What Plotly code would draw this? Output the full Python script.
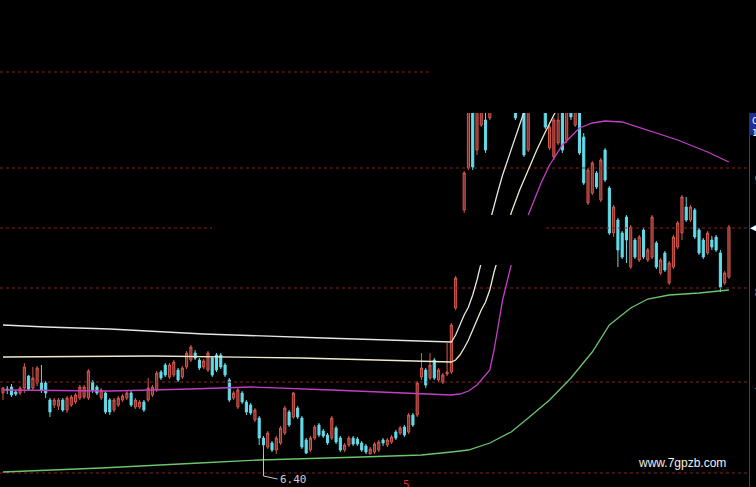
import numpy as np
import plotly.graph_objects as go

# ---------------- data (prices) ----------------
opens = [7.02,7.06,7.08,7.03,7.02,7.07,7.19,7.07,7.12,7.12,7.12,6.95,6.90,6.89,6.95,6.85,6.90,6.93,6.97,6.98,
         6.97,7.13,7.08,6.97,7.02,6.95,6.85,6.90,6.95,6.97,7.02,6.88,6.88,6.93,6.95,7.00,7.05,7.23,7.30,7.18,
         7.20,7.25,7.18,7.28,7.35,7.42,7.35,7.28,7.25,7.37,7.40,7.40,7.30,7.15,6.97,6.88,7.02,6.93,6.90,6.75,
         6.77,6.57,6.48,6.52,6.45,6.52,6.62,6.83,6.78,6.87,6.77,6.55,6.45,6.57,6.70,6.64,6.60,6.57,6.67,6.57,
         6.45,6.50,6.57,6.56,6.52,6.49,6.41,6.43,6.45,6.55,6.50,6.53,6.63,6.62,6.68,6.63,6.80,6.80,7.18,7.25,
         7.17,7.35,7.15,7.13,7.21,7.23,7.87,8.33,8.85,9.27,9.95,9.45,9.70,9.75,9.77,10.10,9.95,10.20,10.40,10.15,
         10.10,9.85,10.20,9.45,10.00,10.25,10.00,10.30,9.47,9.38,9.52,10.05,9.55,10.20,9.70,10.10,9.58,8.92,9.02,9.22,
         8.95,9.45,9.07,8.62,8.75,8.62,8.78,8.28,8.55,8.35,8.65,8.35,8.38,8.52,8.22,8.42,8.12,8.28,8.48,8.62,
         8.88,8.75,8.85,8.65,8.55,8.42,8.55,8.58,8.42,8.12,8.18]
highs = [7.08,7.09,7.11,7.05,7.09,7.32,7.20,7.28,7.29,7.30,7.14,6.97,6.97,6.97,6.97,6.99,7.00,7.02,7.10,7.10,
         7.26,7.15,7.10,7.07,7.04,6.97,6.97,6.99,7.01,7.04,7.04,6.97,6.95,6.95,7.17,7.10,7.24,7.25,7.32,7.32,
         7.35,7.27,7.29,7.44,7.50,7.45,7.37,7.36,7.44,7.39,7.42,7.42,7.32,7.17,7.04,7.07,7.04,6.95,6.92,6.87,
         6.79,6.59,6.64,6.54,6.59,6.69,6.89,6.85,7.03,6.89,6.79,6.57,6.59,6.70,6.72,6.66,6.62,6.79,6.69,6.59,
         6.52,6.59,6.59,6.58,6.54,6.51,6.48,6.53,6.55,6.57,6.57,6.60,6.65,6.69,6.70,6.82,6.82,7.14,7.42,7.27,
         7.42,7.37,7.27,7.22,7.52,7.72,8.19,8.72,9.24,10.10,10.05,10.00,10.10,9.85,10.05,10.20,10.25,10.45,10.50,10.45,
         10.25,10.15,10.30,10.10,10.30,10.35,10.35,10.40,9.70,9.77,9.85,10.15,10.10,10.30,10.25,10.20,9.62,9.27,9.34,9.24,
         9.37,9.47,9.09,8.90,8.77,8.64,8.80,8.70,8.57,8.60,8.67,8.47,8.80,8.54,8.37,8.44,8.34,8.60,8.74,9.00,
         8.98,8.90,8.87,8.67,8.57,8.64,8.59,8.60,8.45,8.24,8.70]
lows = [6.95,7.01,6.98,6.99,7.00,7.02,7.05,7.05,7.09,7.02,6.97,6.78,6.87,6.85,6.83,6.82,6.88,6.91,6.95,6.96,
        6.95,7.02,7.00,6.95,6.81,6.80,6.83,6.88,6.93,6.95,6.88,6.86,6.86,6.83,6.93,6.98,7.03,7.15,7.18,7.16,
        7.18,7.13,7.16,7.26,7.33,7.35,7.25,7.26,7.23,7.18,7.23,7.26,7.18,6.93,6.95,6.86,6.91,6.80,6.80,6.73,
        6.50,6.40,6.46,6.43,6.41,6.50,6.60,6.68,6.76,6.76,6.46,6.41,6.43,6.55,6.58,6.57,6.50,6.55,6.51,6.43,
        6.43,6.48,6.49,6.49,6.43,6.41,6.41,6.41,6.43,6.49,6.48,6.51,6.55,6.60,6.58,6.61,6.68,6.78,7.15,7.07,
        7.15,7.15,7.13,7.11,7.19,7.21,7.85,8.31,8.82,9.25,9.25,9.40,9.68,9.42,9.75,9.90,9.92,10.15,10.10,10.05,
        9.75,9.83,9.38,9.43,9.95,9.95,9.90,9.66,9.45,9.35,9.50,9.42,9.52,9.75,9.68,9.40,9.10,8.90,9.00,9.06,
        8.93,9.13,8.60,8.58,8.28,8.36,8.32,8.26,8.36,8.33,8.36,8.33,8.36,8.26,8.20,8.23,8.10,8.26,8.46,8.55,
        8.73,8.73,8.56,8.40,8.36,8.40,8.45,8.43,8.03,8.10,8.16]
closes = [7.07,7.05,7.00,7.01,7.07,7.28,7.06,7.17,7.27,7.05,7.02,6.83,6.95,6.95,6.85,6.97,6.98,7.00,7.08,7.08,
          7.24,7.05,7.02,7.05,6.83,6.83,6.95,6.97,6.99,7.02,6.90,6.95,6.93,6.85,7.07,7.08,7.22,7.17,7.20,7.30,
          7.33,7.15,7.27,7.42,7.48,7.37,7.27,7.34,7.42,7.20,7.25,7.28,7.20,6.95,7.02,7.05,6.93,6.83,6.82,6.85,
          6.57,6.50,6.62,6.45,6.57,6.67,6.87,6.70,7.02,6.78,6.48,6.42,6.57,6.68,6.60,6.59,6.52,6.77,6.53,6.45,
          6.50,6.57,6.51,6.51,6.45,6.43,6.46,6.51,6.53,6.52,6.55,6.58,6.57,6.67,6.60,6.80,6.70,7.12,7.27,7.10,
          7.30,7.17,7.25,7.20,7.23,7.70,8.17,8.70,9.22,10.05,9.28,9.90,10.00,9.45,9.95,9.95,10.20,10.40,10.15,10.35,
          9.77,10.10,9.40,10.00,10.25,10.00,10.30,9.68,9.68,9.75,9.75,9.45,10.05,9.78,10.15,9.42,9.12,9.25,9.32,9.08,
          9.35,9.15,8.62,8.88,8.45,8.38,8.55,8.68,8.38,8.58,8.38,8.45,8.78,8.28,8.35,8.25,8.32,8.58,8.72,8.98,
          8.75,8.88,8.58,8.42,8.38,8.62,8.48,8.45,8.08,8.22,8.68]
days = list(range(len(closes)))

# indicator lines: (day index, price)
line_white_x = [0, 10, 25, 47, 75, 105, 106, 107, 108, 109, 110, 111, 112, 113, 114, 115, 116, 117, 118, 119, 120, 121, 122, 123, 126, 130]
line_white_y = [7.70, 7.68, 7.66, 7.61, 7.57, 7.53, 7.60, 7.70, 7.80, 7.88, 8.00, 8.15, 8.32, 8.50, 8.73, 8.90, 9.05, 9.20, 9.33, 9.45, 9.58, 9.71, 9.83, 9.95, 10.25, 10.55]
line_cream_x = [0, 35, 70, 105, 106, 107, 108, 109, 110, 111, 112, 113, 114, 115, 116, 117, 118, 119, 121, 123, 125, 127, 129, 131, 135]
line_cream_y = [7.38, 7.39, 7.37, 7.33, 7.35, 7.40, 7.47, 7.55, 7.65, 7.75, 7.85, 7.93, 8.05, 8.23, 8.37, 8.52, 8.67, 8.82, 9.05, 9.25, 9.45, 9.63, 9.80, 9.95, 10.25]
line_purple_x = [0, 25, 44, 58, 77, 93, 105, 107, 109, 111, 112, 113, 114, 115, 116, 117, 119, 123, 126, 128, 131, 135, 138, 141, 145, 151, 158, 165, 170]
line_purple_y = [7.05, 7.04, 7.06, 7.08, 7.05, 7.02, 7.00, 7.01, 7.04, 7.10, 7.15, 7.20, 7.25, 7.45, 7.70, 7.95, 8.30, 8.80, 9.12, 9.30, 9.50, 9.67, 9.72, 9.74, 9.73, 9.65, 9.55, 9.43, 9.33]
line_green_x = [0, 23, 46, 60, 84, 98, 105, 109, 114, 119, 123, 128, 133, 138, 142, 147, 151, 156, 163, 168, 170]
line_green_y = [6.23, 6.27, 6.32, 6.35, 6.38, 6.40, 6.43, 6.45, 6.52, 6.63, 6.77, 6.95, 7.17, 7.43, 7.70, 7.87, 7.96, 8.00, 8.02, 8.04, 8.05]

grid_levels = [10.23, 9.27, 8.67, 8.07, 7.13, 6.22]
tick_values = [9.15, 8.02, 7.02]
tick_labels = ["9.15", "8.02", "7.02"]
month_marks = [(94.4, "5")]
watermark = "www.7gpzb.com"

X_RANGE = [-0.7, 174.7]
Y_RANGE = [6.08, 10.95]

fig = go.Figure()

# dotted grid lines
for lv in grid_levels:
    fig.add_trace(go.Scatter(x=X_RANGE, y=[lv, lv], mode="lines",
                             line=dict(color="#7e2626", width=1, dash="dot"),
                             hoverinfo="skip"))

# candles
fig.add_trace(go.Candlestick(
    x=days, open=opens, high=highs, low=lows, close=closes,
    increasing=dict(line=dict(color="#d8584e", width=1), fillcolor="#7a2a26"),
    decreasing=dict(line=dict(color="#62dcea", width=1), fillcolor="#62dcea"),
    whiskerwidth=0,
))

# indicator lines
fig.add_trace(go.Scatter(x=line_green_x, y=line_green_y, mode="lines", line=dict(color="#6cc46c", width=1.3)))
fig.add_trace(go.Scatter(x=line_purple_x, y=line_purple_y, mode="lines", line=dict(color="#c23fc4", width=1.3)))
fig.add_trace(go.Scatter(x=line_cream_x, y=line_cream_y, mode="lines", line=dict(color="#eeeacb", width=1.3)))
fig.add_trace(go.Scatter(x=line_white_x, y=line_white_y, mode="lines", line=dict(color="#e4e4e4", width=1.3)))

# low marker with leader line
lo_i = int(np.argmin(lows))
lo_v = float(lows[lo_i])
fig.add_trace(go.Scatter(x=[lo_i, lo_i, lo_i + 3.3], y=[lo_v, lo_v - 0.21, lo_v - 0.24],
                         mode="lines", line=dict(color="#c8c8c8", width=1), hoverinfo="skip"))
fig.add_annotation(x=lo_i + 3.5, y=lo_v - 0.245, text=f"{lo_v:.2f}", showarrow=False,
                   xanchor="left", yanchor="middle",
                   font=dict(family="DejaVu Sans Mono", size=11, color="#d0d0d0"))

# month mark on bottom
for mx, mt in month_marks:
    fig.add_annotation(x=mx, y=0.0, yref="paper", text=mt, showarrow=False,
                       xanchor="center", yanchor="bottom", yshift=-6,
                       font=dict(family="DejaVu Sans Mono", size=11, color="#d83030"))

# cover blocks (as in the screenshot)
W_PLOT = 749.0
H = 487.0
fig.add_shape(type="rect", xref="paper", yref="paper",
              x0=430 / W_PLOT, x1=757 / W_PLOT, y0=1 - 113 / H, y1=1.01,
              fillcolor="black", line=dict(width=0), layer="above")
fig.add_shape(type="rect", xref="paper", yref="paper",
              x0=212 / W_PLOT, x1=545 / W_PLOT, y0=1 - 265 / H, y1=1 - 215 / H,
              fillcolor="black", line=dict(width=0), layer="above")
# blue label box at top of price axis
fig.add_shape(type="rect", xref="paper", yref="paper",
              x0=1.0, x1=757 / W_PLOT, y0=1 - 135 / H, y1=1 - 113 / H,
              fillcolor="#1e2e96", line=dict(width=0), layer="above")
fig.add_annotation(x=1.0, y=1 - 114 / H, xref="paper", yref="paper", text="C<br>1",
                   showarrow=False, xanchor="left", yanchor="top", xshift=1,
                   font=dict(family="DejaVu Sans Mono", size=9, color="white"))
# last price marker
fig.add_annotation(x=1.0, y=closes[-1], xref="paper", yref="y", text="◀", showarrow=False,
                   xanchor="left", yanchor="middle", xshift=-1,
                   font=dict(family="DejaVu Sans", size=11, color="white"))

# watermark
fig.add_annotation(x=682 / W_PLOT, y=1 - 463 / H, xref="paper", yref="paper", text=watermark,
                   showarrow=False, xanchor="center", yanchor="middle",
                   font=dict(family="Liberation Sans", size=12, color="#f0f0f0"))

fig.update_layout(
    template="none",
    width=756, height=487,
    margin=dict(l=0, r=7, t=0, b=0),
    paper_bgcolor="black", plot_bgcolor="black",
    showlegend=False,
    xaxis=dict(range=X_RANGE, visible=False, rangeslider=dict(visible=False), automargin=False),
    yaxis=dict(range=Y_RANGE, side="right", showgrid=False, zeroline=False, automargin=False,
               showline=True, linecolor="#b01818", linewidth=1, ticks="",
               tickvals=tick_values, ticktext=tick_labels, ticklabelstandoff=2,
               tickfont=dict(family="DejaVu Sans Mono", size=12, color="#9a9a9a")),
)

fig.write_html(
    "out.html",
    config={"displayModeBar": False},
    post_script="document.body.style.margin='0';document.body.style.padding='0';"
                "document.body.style.background='black';document.body.style.overflow='hidden';",
)
